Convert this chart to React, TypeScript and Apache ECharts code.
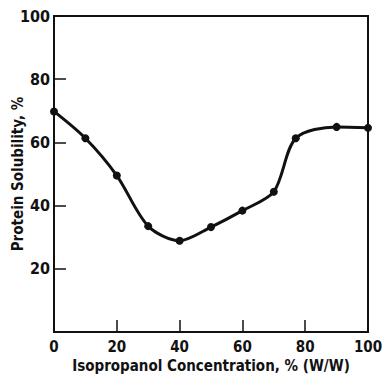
import React, { useEffect, useRef } from "react";
import * as echarts from "echarts";

const concentration = [0, 10, 20, 30, 40, 50, 60, 70, 77, 90, 100];
const solubility = [69.8, 61.3, 49.5, 33.5, 28.9, 33.2, 38.4, 44.4, 61.3, 64.9, 64.6];
const xTicks = [0, 20, 40, 60, 80, 100];
const yTicks = [0, 20, 40, 60, 80, 100];

const FONT = "'DejaVu Sans Condensed', 'Liberation Sans Narrow', sans-serif";

export default function App() {
  const ref = useRef<HTMLDivElement>(null);
  useEffect(() => {
    document.body.style.margin = "0";
    const chart = echarts.init(ref.current!, null, { renderer: "svg" });
    const points = concentration.map((x, i) => [x, solubility[i]]);
    chart.setOption({
      animation: false,
      backgroundColor: "#ffffff",
      grid: {
        left: 54,
        top: 16,
        right: 15,
        bottom: 43,
        containLabel: false,
        outerBoundsMode: "none",
        show: true,
        borderColor: "#111",
        borderWidth: 2,
      },
      xAxis: {
        type: "value",
        min: 0,
        max: 100,
        interval: 20,
        name: "Isopropanol Concentration, % (W/W)",
        nameLocation: "middle",
        nameGap: 26,
        nameMoveOverlap: false,
        nameTextStyle: { fontFamily: FONT, fontWeight: "bold", fontSize: 15, color: "#111" },
        axisLine: { show: true, lineStyle: { color: "#111", width: 2 } },
        axisTick: { show: true, inside: true, length: 12, lineStyle: { color: "#111", width: 1.5 } },
        axisLabel: {
          fontFamily: FONT,
          fontWeight: "bold",
          fontSize: 15,
          color: "#111",
          margin: 7,
          formatter: (v: number) => (xTicks.includes(v) ? String(v) : ""),
        },
        splitLine: { show: false },
      },
      yAxis: {
        type: "value",
        min: 0,
        max: 100,
        interval: 20,
        name: "Protein Solubility, %",
        nameLocation: "middle",
        nameGap: 29,
        nameMoveOverlap: false,
        nameTextStyle: { fontFamily: FONT, fontWeight: "bold", fontSize: 15, color: "#111" },
        axisLine: { show: true, lineStyle: { color: "#111", width: 2 } },
        axisTick: { show: true, inside: true, length: 12, lineStyle: { color: "#111", width: 1.5 } },
        axisLabel: {
          fontFamily: FONT,
          fontWeight: "bold",
          fontSize: 16,
          color: "#111",
          margin: 4,
          showMinLabel: false,
          formatter: (v: number) => (yTicks.includes(v) ? String(v) : ""),
        },
        splitLine: { show: false },
      },
      series: [
        {
          type: "line",
          data: points,
          smooth: 0.3,
          symbol: "circle",
          symbolSize: 8,
          itemStyle: { color: "#111" },
          lineStyle: { color: "#111", width: 3 },
          clip: false,
        },
      ],
    });
    return () => chart.dispose();
  }, []);
  return <div ref={ref} style={{ width: 383, height: 375 }} />;
}
